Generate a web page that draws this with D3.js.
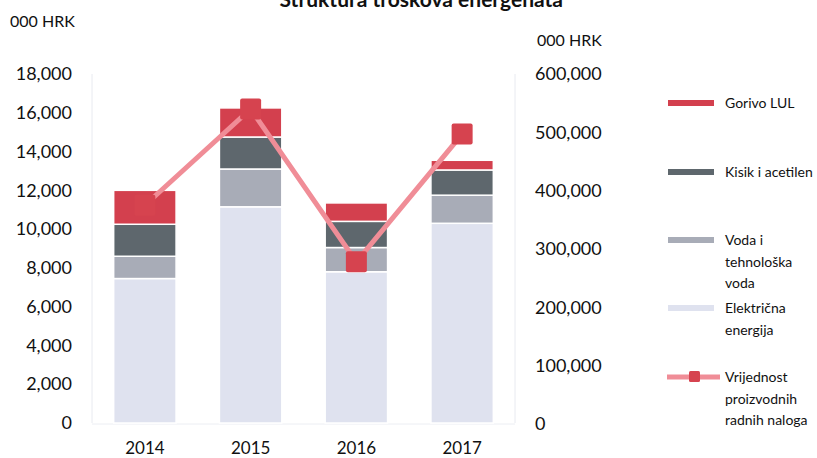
<!DOCTYPE html>
<html>
<head>
<meta charset="utf-8">
<script src="https://cdn.jsdelivr.net/npm/d3@7"></script>
<style>
    body { margin: 0; background: #fff; }
    svg text { font-family: Lato, "Open Sans", sans-serif; fill: #111; }
</style>
</head>
<body>
<div id="chart"></div>
<script>

// data
let years = ["2014", "2015", "2016", "2017"];
let elektricna = [7450, 11150, 7800, 10300];
let voda = [1150, 1950, 1250, 1450];
let kisik = [1650, 1650, 1350, 1300];
let gorivo = [1750, 1500, 950, 500];
let vrijednost = [375000, 540000, 278000, 497000];

let leftTicks = [0, 2000, 4000, 6000, 8000, 10000, 12000, 14000, 16000, 18000];
let rightTicks = [0, 100000, 200000, 300000, 400000, 500000, 600000];

let seriesNames = ["Električna energija", "Voda i tehnološka voda", "Kisik i acetilen", "Gorivo LUL"];
let seriesKeys = ["elektricna", "voda", "kisik", "gorivo"];
let seriesColors = ["#dfe2ef", "#a8acb7", "#5e676d", "#d3404e"];

let width = 817, height = 458;
let plot = {left: 92, right: 515, top: 74, bottom: 423};

let svg = d3.select("#chart").append("svg")
    .attr("width", width)
    .attr("height", height);

let table = years.map((y, i) => ({
    year: y,
    elektricna: elektricna[i],
    voda: voda[i],
    kisik: kisik[i],
    gorivo: gorivo[i],
    vrijednost: vrijednost[i]
}));

let xScale = d3.scaleBand()
    .domain(years)
    .range([plot.left, plot.right])
    .paddingInner(0.41)
    .paddingOuter(0.205);

let yLeft = d3.scaleLinear().domain([0, 18000]).range([plot.bottom, plot.top]);
let yRight = d3.scaleLinear().domain([0, 600000]).range([plot.bottom + 1, plot.top]);

// title (cut off at the top in the original)
svg.append("text")
    .attr("x", 563)
    .attr("y", 7)
    .attr("text-anchor", "end")
    .style("font-size", "21px")
    .style("font-weight", "bold")
    .text("Struktura troškova energenata");

// unit labels
svg.append("text").attr("x", 10).attr("y", 27).style("font-size", "16px").text("000 HRK");
svg.append("text").attr("x", 537).attr("y", 46).style("font-size", "16px").text("000 HRK");

// faint axis lines
svg.append("line")
    .attr("x1", plot.left).attr("x2", plot.left)
    .attr("y1", plot.top).attr("y2", plot.bottom)
    .attr("stroke", "#e8eaf0");
svg.append("line")
    .attr("x1", plot.right).attr("x2", plot.right)
    .attr("y1", plot.top).attr("y2", plot.bottom)
    .attr("stroke", "#e8eaf0");
svg.append("line")
    .attr("x1", plot.left).attr("x2", plot.right)
    .attr("y1", plot.bottom + 1).attr("y2", plot.bottom + 1)
    .attr("stroke", "#eceef3");

// left axis
let leftAxis = d3.axisLeft(yLeft)
    .tickValues(leftTicks)
    .tickFormat(d3.format(","))
    .tickSize(0)
    .tickPadding(20);

svg.append("g")
    .attr("class", "yAxis")
    .attr("transform", `translate(${plot.left}, 0)`)
    .call(leftAxis)
    .call(g => g.select(".domain").remove())
    .selectAll("text")
    .style("font-size", "18px")
    .attr("fill", "#111");

// right axis
let rightAxis = d3.axisRight(yRight)
    .tickValues(rightTicks)
    .tickFormat(d3.format(","))
    .tickSize(0)
    .tickPadding(20);

svg.append("g")
    .attr("class", "yAxisRight")
    .attr("transform", `translate(${plot.right}, 0)`)
    .call(rightAxis)
    .call(g => g.select(".domain").remove())
    .selectAll("text")
    .style("font-size", "18px")
    .attr("fill", "#111");

// x axis
svg.append("g")
    .attr("class", "xAxis")
    .attr("transform", `translate(0, ${plot.bottom})`)
    .call(d3.axisBottom(xScale).tickSize(0).tickPadding(19))
    .call(g => g.select(".domain").remove())
    .selectAll("text")
    .style("font-size", "17px")
    .attr("fill", "#111");

// stacked bars
let stack = d3.stack().keys(seriesKeys)(table);

svg.append("g").selectAll(".layer")
    .data(stack)
    .enter()
    .append("g")
    .attr("class", "layer")
    .attr("fill", (d, i) => seriesColors[i])
    .selectAll("rect")
    .data(d => d)
    .enter()
    .append("rect")
    .attr("x", d => xScale(d.data.year))
    .attr("y", d => yLeft(d[1]))
    .attr("width", xScale.bandwidth())
    .attr("height", d => yLeft(d[0]) - yLeft(d[1]))
    .attr("stroke", "#fff")
    .attr("stroke-width", 1.5);

// line on right axis
let line = d3.line()
    .x(d => xScale(d.year) + xScale.bandwidth() / 2)
    .y(d => yRight(d.vrijednost));

svg.append("path")
    .datum(table)
    .attr("d", line)
    .attr("fill", "none")
    .attr("stroke", "#f08d97")
    .attr("stroke-width", 5);

let markerSize = 21;
svg.selectAll(".marker")
    .data(table)
    .enter()
    .append("rect")
    .attr("class", "marker")
    .attr("x", d => xScale(d.year) + xScale.bandwidth() / 2 - markerSize / 2)
    .attr("y", d => yRight(d.vrijednost) - markerSize / 2)
    .attr("width", markerSize)
    .attr("height", markerSize)
    .attr("rx", 2)
    .attr("fill", "#d6434f");

// legend
let legendItems = [
    {name: ["Gorivo LUL"], color: seriesColors[3], y: 103},
    {name: ["Kisik i acetilen"], color: seriesColors[2], y: 172},
    {name: ["Voda i", "tehnološka", "voda"], color: seriesColors[1], y: 240},
    {name: ["Električna", "energija"], color: seriesColors[0], y: 308}
];

let legend = svg.append("g").attr("class", "legend");

legend.selectAll(".swatch")
    .data(legendItems)
    .enter()
    .append("rect")
    .attr("x", 668)
    .attr("y", d => d.y - 3)
    .attr("width", 46)
    .attr("height", 6)
    .attr("fill", d => d.color);

legend.selectAll(".lbl")
    .data(legendItems)
    .enter()
    .append("text")
    .attr("x", 725)
    .attr("y", d => d.y + 5)
    .style("font-size", "14px")
    .each(function (d) {
        d3.select(this).selectAll("tspan")
            .data(d.name)
            .enter()
            .append("tspan")
            .attr("x", 725)
            .attr("dy", (t, i) => i === 0 ? 0 : 21.5)
            .text(t => t);
    });

// line legend
legend.append("line")
    .attr("x1", 667).attr("x2", 720)
    .attr("y1", 377).attr("y2", 377)
    .attr("stroke", "#f08d97")
    .attr("stroke-width", 5);
legend.append("rect")
    .attr("x", 689).attr("y", 371)
    .attr("width", 11).attr("height", 11)
    .attr("rx", 1.5)
    .attr("fill", "#d6434f");

let lineLabel = ["Vrijednost", "proizvodnih", "radnih naloga"];
legend.append("text")
    .attr("x", 725)
    .attr("y", 382)
    .style("font-size", "14px")
    .selectAll("tspan")
    .data(lineLabel)
    .enter()
    .append("tspan")
    .attr("x", 725)
    .attr("dy", (t, i) => i === 0 ? 0 : 21.5)
    .text(t => t);

</script>
</body>
</html>
